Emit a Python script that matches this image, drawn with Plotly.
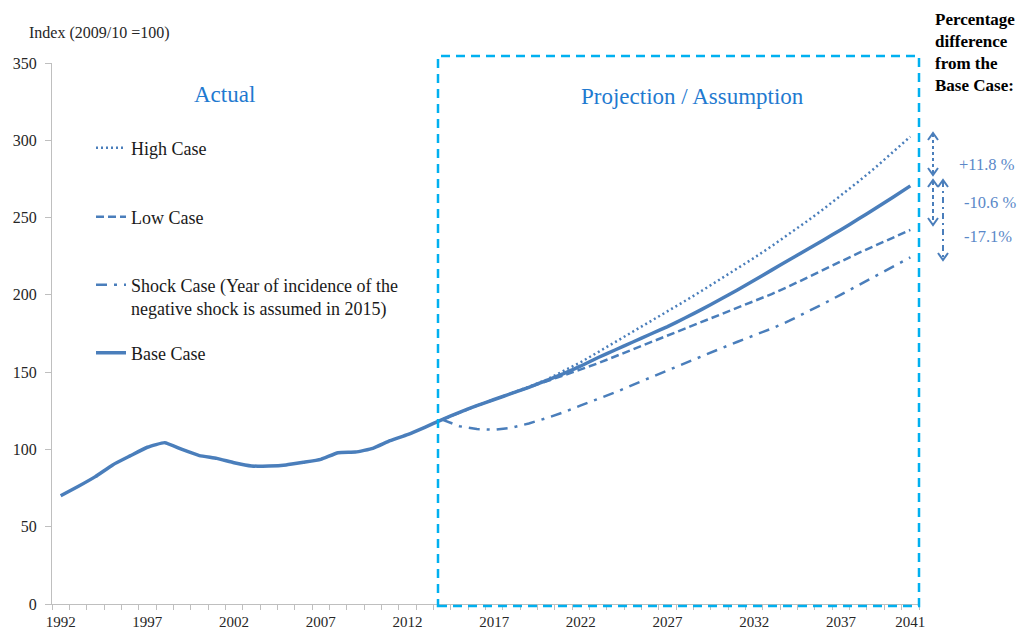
import plotly.graph_objects as go

# ---------------- data ----------------
years_actual = list(range(1992, 2015))
actual = [70, 76, 82.4, 90, 95.8, 101.4, 104.4, 100, 96, 94.2, 91.4, 89.3, 89.3,
          90, 91.7, 93.6, 97.9, 98.3, 100.7, 105.7, 109.6, 114.3, 119.3]

years_proj = list(range(2015, 2042))
base_proj = [124, 128.3, 132.3, 136.2, 140.2, 144.5, 149, 154, 159.5, 164.5, 169.5,
             174.5, 179.5, 185, 190.8, 196.8, 203, 209.4, 216, 222.5, 229, 235.5, 242.2,
             249, 256, 263.2, 270.5]

years_scen = list(range(2014, 2042))
high = [119.3, 124, 128.3, 132.3, 136.3, 140.5, 145, 150.5, 156.5, 163, 169.5, 176,
        182.7, 189.3, 196, 202.8, 209.7, 216.7, 224, 231.5, 239.3, 247.3, 255.6,
        264.2, 273.2, 282.5, 292.2, 302.4]
low = [119.3, 124, 128.3, 132.3, 136.1, 140, 143.8, 147.8, 151.8, 155.8, 160.3, 164.8,
       169.3, 173.8, 178.3, 182.8, 187.3, 191.6, 195.9, 200.5, 205.5, 211, 216.5, 222,
       227, 232, 237, 242]
shock = [119.3, 115, 113.2, 112.7, 114, 116.8, 120.2, 124, 128.5, 132.5, 137, 141.8,
         146.5, 151.2, 156, 160.5, 165, 169.5, 173.7, 178.2, 183.1, 188.5, 194.3, 200.2,
         206.1, 212, 218, 224.3]

x_tickvals = [1992, 1997, 2002, 2007, 2012, 2017, 2022, 2027, 2032, 2037, 2041]
y_tickvals = [0, 50, 100, 150, 200, 250, 300, 350]
pct_labels = ["+11.8 %", "-10.6 %", "-17.1%"]

# ---------------- layout geometry ----------------
W, H = 1027, 632
L, R, T, B = 52, 108, 63, 28
PW, PH = W - L - R, H - T - B


def px(x):
    return (x - L) / PW


def py(y):
    return (H - B - y) / PH


BLUE = "#4a7ebb"
FONT = "Liberation Serif"

fig = go.Figure()
fig.add_trace(go.Scatter(x=years_scen, y=high, mode="lines", name="High Case",
                         legend="legend",
                         line=dict(color=BLUE, width=2.5, dash="2px,3px")))
fig.add_trace(go.Scatter(x=years_scen, y=low, mode="lines", name="Low Case",
                         legend="legend2",
                         line=dict(color=BLUE, width=2.5, dash="8px,4px")))
fig.add_trace(go.Scatter(x=years_scen, y=shock, mode="lines",
                         name="Shock Case (Year of incidence of the<br>negative shock is assumed in 2015)",
                         legend="legend3",
                         line=dict(color=BLUE, width=2.5, dash="11px,7px,3px,7px")))
fig.add_trace(go.Scatter(x=years_actual + years_proj, y=actual + base_proj, mode="lines",
                         name="Base Case", legend="legend4",
                         line=dict(color=BLUE, width=3.5, shape="spline", smoothing=0.4)))

shapes = []
# projection box
shapes.append(dict(type="rect", xref="paper", yref="paper",
                   x0=px(438), x1=px(919), y0=py(606), y1=py(56),
                   line=dict(color="#00b0f0", width=2.5, dash="9px,6px"),
                   fillcolor="rgba(0,0,0,0)", layer="above"))


def darrow(x, ytop, ybot, dash):
    shapes.append(dict(type="line", xref="paper", yref="paper",
                       x0=px(x), x1=px(x), y0=py(ytop + 1), y1=py(ybot - 1),
                       line=dict(color=BLUE, width=2, dash=dash)))
    shapes.append(dict(type="path", xref="paper", yref="paper",
                       path=f"M {px(x-5)},{py(ytop+7)} L {px(x)},{py(ytop)} L {px(x+5)},{py(ytop+7)}",
                       line=dict(color=BLUE, width=2)))
    shapes.append(dict(type="path", xref="paper", yref="paper",
                       path=f"M {px(x-5)},{py(ybot-7)} L {px(x)},{py(ybot)} L {px(x+5)},{py(ybot-7)}",
                       line=dict(color=BLUE, width=2)))


darrow(933, 133, 175, "dot")
darrow(933, 180, 225, "4px,3px")
darrow(943, 180, 260, "6px,4px,2px,4px")

annotations = [
    dict(text="Index (2009/10 =100)", xref="paper", yref="paper", x=px(27), y=py(33),
         xanchor="left", yanchor="middle", showarrow=False,
         font=dict(family=FONT, size=16, color="#262626")),
    dict(text="Actual", xref="paper", yref="paper", x=px(224), y=py(95),
         xanchor="center", yanchor="middle", showarrow=False,
         font=dict(family=FONT, size=23, color="#1f7ad0")),
    dict(text="Projection / Assumption", xref="paper", yref="paper", x=px(692), y=py(96),
         xanchor="center", yanchor="middle", showarrow=False,
         font=dict(family=FONT, size=23, color="#1f7ad0")),
    dict(text="<b>Percentage<br>difference<br>from the<br>Base Case:</b>", xref="paper",
         yref="paper", x=px(933), y=py(8), xanchor="left", yanchor="top", align="left",
         showarrow=False, font=dict(family=FONT, size=17, color="#000000")),
]
for lab, xx, yy in zip(pct_labels, [957, 962, 962], [164, 202, 236]):
    annotations.append(dict(text=lab, xref="paper", yref="paper", x=px(xx), y=py(yy),
                            xanchor="left", yanchor="middle", showarrow=False,
                            font=dict(family=FONT, size=16.5, color="#5a88c8")))

minor_vals = [1991.5 + i for i in range(51)]


def leg(ypix):
    return dict(x=px(91), y=py(ypix), xanchor="left", yanchor="middle",
                bgcolor="rgba(0,0,0,0)", valign="top", itemwidth=30,
                font=dict(family=FONT, size=18, color="#1a1a1a"))


fig.update_layout(
    width=W, height=H,
    margin=dict(l=L, r=R, t=T, b=B, autoexpand=False),
    paper_bgcolor="white", plot_bgcolor="white",
    font=dict(family=FONT, size=15, color="#262626"),
    xaxis=dict(range=[1991.5, 2041.5], tickmode="array", tickvals=x_tickvals,
               ticks="", showgrid=False, zeroline=False, showline=True,
               linecolor="#bfbfbf", linewidth=1.3, ticklabelstandoff=4, automargin=False,
               tickfont=dict(family=FONT, size=15, color="#262626"),
               minor=dict(tickmode="array", tickvals=minor_vals, ticks="outside",
                          ticklen=5, tickcolor="#bfbfbf", tickwidth=1.3, showgrid=False)),
    yaxis=dict(range=[0, 350], tickmode="array", tickvals=y_tickvals,
               ticks="outside", ticklen=6, tickcolor="#bfbfbf", tickwidth=1.3,
               showgrid=False, zeroline=False, showline=True, automargin=False,
               linecolor="#bfbfbf", linewidth=1.3, ticklabelstandoff=5,
               tickfont=dict(family=FONT, size=16, color="#262626")),
    showlegend=True,
    legend=leg(148), legend2=leg(217), legend3=leg(296.5), legend4=leg(353),
    shapes=shapes, annotations=annotations,
)

fig.write_html("out.html", config={"displayModeBar": False},
               post_script="document.body.style.margin='0px';")
